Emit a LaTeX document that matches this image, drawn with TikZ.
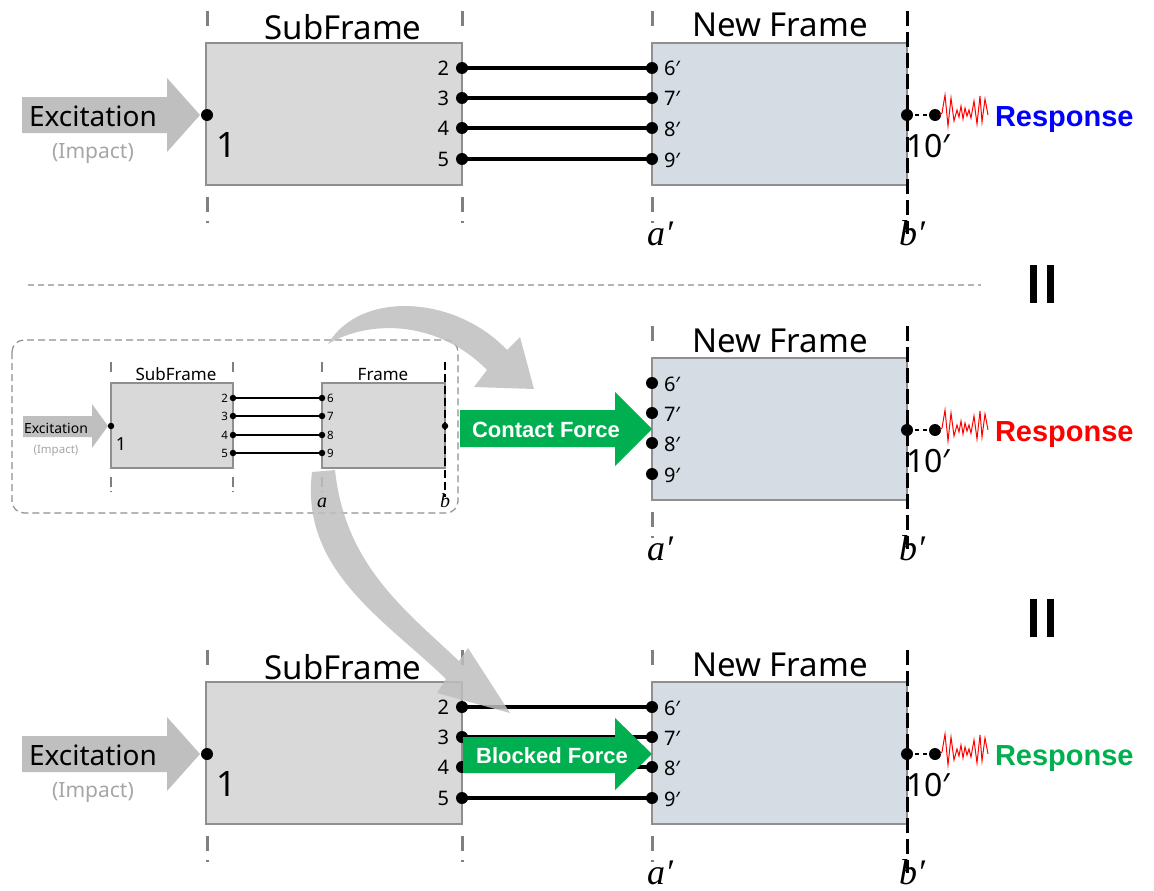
\documentclass[tikz,border=0pt]{standalone}
\usepackage{fontspec}
\setmainfont{Noto Sans}
\newfontfamily\serifit{Liberation Serif}
\newfontfamily\bsans{Liberation Sans}
\definecolor{sfgray}{HTML}{D9D9D9}
\definecolor{nfblue}{HTML}{D6DCE4}
\definecolor{boxgray}{HTML}{8F8F8F}
\definecolor{dashgray}{HTML}{808080}
\definecolor{arrowgray}{HTML}{BFBFBF}
\definecolor{impactgray}{HTML}{A6A6A6}
\definecolor{greenc}{HTML}{00B050}
\definecolor{respblue}{HTML}{0000FF}
\definecolor{respred}{HTML}{FF0000}
\definecolor{sepgray}{HTML}{B4B4B4}
\newcommand{\fs}[1]{\fontsize{#1}{#1}\selectfont}
\tikzset{
  every node/.style={inner sep=0pt, outer sep=0pt},
  sfbox/.style={draw=boxgray, line width=1.8, fill=sfgray},
  nfbox/.style={draw=boxgray, line width=1.8, fill=nfblue},
  gdash/.style={draw=dashgray, line width=3},
  bdash/.style={draw=black, line width=3, dash pattern=on 15 off 6},
  conn/.style={line width=4.5, black},
  dot/.style={circle, fill=black, minimum size=12},
  sdot/.style={circle, fill=black, minimum size=6.5},
  sconn/.style={line width=2.5, black},
  wig/.style={draw=respred, line width=1},
  sep/.style={draw=sepgray, line width=1.2, dash pattern=on 6 off 4},
  bigarrow/.style={fill=arrowgray, fill opacity=0.85},
}
% SubFrame panel (top coordinates)
\newcommand{\SubPanel}[1]{%
  \draw[sfbox] (206,43) rectangle (462,185);
  \foreach \xx in {207,462}{\draw[gdash] (\xx,11)--(\xx,26) (\xx,197)--(\xx,212) (\xx,221)--(\xx,223);}
  \node[anchor=base, font=\fs{33}] (#1sft) at (343,40) {SubFrame};
  \fill[arrowgray] (22,97) -- (167,97) -- (167,78) -- (200,115) -- (167,152) -- (167,133) -- (22,133) -- cycle;
  \node[anchor=base, font=\fs{28}] (#1exc) at (93,126) {Excitation};
  \node[anchor=base, font=\fs{21}, text=impactgray] (#1imp) at (93,158) {(Impact)};
  \node[anchor=base, font=\fs{35}] (#1one) at (227,157) {1};
  \node[dot] (#1p1) at (207,115) {};
  \foreach \n/\yy in {2/68,3/98,4/128,5/159}{%
    \node[dot] (#1p\n) at (462,\yy) {};
    \node[anchor=base east, font=\fs{20}] (#1l\n) at (449,\yy+7) {\n};}
}
% New Frame panel (top coordinates)
\newcommand{\NFBox}[2]{%
  \draw[nfbox] (652,43) rectangle (907,185);
  \draw[gdash] (652,11)--(652,26) (652,197)--(652,212) (652,221)--(652,223);
  \draw[bdash] (907,11) -- (907,234);
  \node[anchor=base, font=\fs{33}] (#1nft) at (780,37) {New Frame};
  \node[anchor=base west, font=\fs{32}] (#1ten) at (906,157) {10′};
  \node[anchor=base west, font=\serifit\itshape\fs{36}] (#1ap) at (647,245) {a′};
  \node[anchor=base west, font=\serifit\itshape\fs{36}] (#1bp) at (899,245) {b′};
  \node[dot] (#1r1) at (907,115) {};
  \node[dot] (#1r2) at (935,115) {};
  \draw[black, line width=2.5, dash pattern=on 4 off 4] (#1r1.center) -- (#1r2.center);
  \draw[wig] (#1r2.center) ++(5,0) coordinate (#1w0) -- (942,113) -- (945,95) -- (948,126) -- (951,98) -- (954,121) -- (957,110) -- (959,117) -- (961,106) -- (963,119) -- (965,108) -- (967,116) -- (969,110) -- (971,118) -- (974,101) -- (977,124) -- (980,96) -- (982,122) -- (985,99) -- (988,115);
  \node[anchor=base west, font=\bsans\bfseries\fs{29}, text=#2] (#1resp) at (995,126) {Response};
  \foreach \n/\yy in {6/68,7/98,8/128,9/159}{%
    \coordinate (#1c\n) at (652,\yy);
    \node[anchor=base west, font=\fs{20}] (#1l\n) at (664,\yy+8) {\n′};}
}
\newcommand{\NFDots}[1]{%
  \foreach \n in {6,7,8,9}{\node[dot] (#1d\n) at (#1c\n) {};}
}
\begin{document}
\begin{tikzpicture}[x=1pt,y=-1pt]
\useasboundingbox (0,0) rectangle (1154,891);
\fill[white] (0,0) rectangle (1154,891);
% ---------------- top panel
\SubPanel{t}
\NFBox{t}{respblue}
\foreach \a/\b in {2/6,3/7,4/8,5/9}{\draw[conn] (tp\a.center) -- (tc\b);}
\NFDots{t}
% separator and equal signs
\draw[sep] (28,285) -- (981,285);
\fill (1030,265) rectangle (1037,303);
\fill (1047,265) rectangle (1054,303);
\fill (1030,599) rectangle (1037,637);
\fill (1047,599) rectangle (1054,637);
% ---------------- middle panel
\begin{scope}[shift={(0,315)}]
\NFBox{m}{respred}
\end{scope}
\fill[greenc] (460,410) -- (615,410) -- (615,392) -- (652,429) -- (615,466) -- (615,447) -- (460,447) -- cycle;
\node[anchor=base, font=\bsans\bfseries\fs{22}, text=white] (cf) at (546,437) {Contact Force};
\begin{scope}[shift={(0,315)}]
\NFDots{m}
\end{scope}
% small panel
\draw[draw=boxgray, line width=1.2, dash pattern=on 7 off 4, rounded corners=12] (12,340) rectangle (458,513);
\draw[draw=boxgray, line width=1.2, fill=sfgray] (111,383) rectangle (233,468);
\draw[draw=boxgray, line width=1.2, fill=sfgray] (322,383) rectangle (445,468);
\foreach \xx in {111,233,322}{\draw[draw=dashgray, line width=1.8] (\xx,362)--(\xx,372) (\xx,477)--(\xx,487) (\xx,491)--(\xx,492);}
\draw[black, line width=1.8, dash pattern=on 8 off 4] (445,362) -- (445,497);
\node[anchor=base, font=\fs{17}] (ssft) at (176,380) {SubFrame};
\node[anchor=base, font=\fs{17}] (sft) at (383,380) {Frame};
\fill[arrowgray] (23,416) -- (92,416) -- (92,404) -- (108,426) -- (92,448) -- (92,437) -- (23,437) -- cycle;
\node[anchor=base, font=\fs{14}] (sexc) at (56,433) {Excitation};
\node[anchor=base, font=\fs{11.5}, text=impactgray] (simp) at (56,453) {(Impact)};
\node[anchor=base, font=\fs{18}] (sone) at (121,450) {1};
\node[sdot] (s1) at (111,426) {};
\node[sdot] (sb) at (445,426) {};
\foreach \a/\b/\yy in {2/6/398,3/7/416,4/8/435,5/9/453}{%
  \node[sdot] (sL\a) at (233,\yy) {};
  \node[sdot] (sR\b) at (322,\yy) {};
  \draw[sconn] (sL\a.center) -- (sR\b.center);
  \node[anchor=base east, font=\fs{11.5}] (sl\a) at (228,\yy+4) {\a};
  \node[anchor=base west, font=\fs{11.5}] (sr\b) at (327,\yy+4) {\b};}
% ---------------- bottom panel
\begin{scope}[shift={(0,639)}]
\SubPanel{b}
\NFBox{b}{greenc}
\end{scope}
\foreach \a/\b in {2/6,3/7,4/8,5/9}{\draw[conn] (bp\a.center) -- (bc\b);}
\fill[greenc] (463,737) -- (615,737) -- (615,718) -- (652,754) -- (615,790) -- (615,773) -- (463,773) -- cycle;
\node[anchor=base, font=\bsans\bfseries\fs{22}, text=white] (bf) at (552,763) {Blocked Force};
\begin{scope}[shift={(0,639)}]
\NFDots{b}
\end{scope}
% ---------------- curved transfer arrows
\fill[bigarrow] (328,344) .. controls (360,290) and (455,295) .. (507,350) -- (520,337) -- (534,389) -- (474,387) -- (487,370) .. controls (440,322) and (372,318) .. (328,344) -- cycle;
\fill[bigarrow] (312,472) .. controls (300,570) and (385,620) .. (446,679) -- (437,693) -- (510,713) -- (468,648) -- (459,661) .. controls (405,610) and (345,565) .. (335,470) -- cycle;
\node[anchor=base, font=\serifit\itshape\fs{20}] (sa) at (322,507) {a};
\node[anchor=base, font=\serifit\itshape\fs{20}] (sbl) at (445,507) {b};
\end{tikzpicture}
\end{document}
